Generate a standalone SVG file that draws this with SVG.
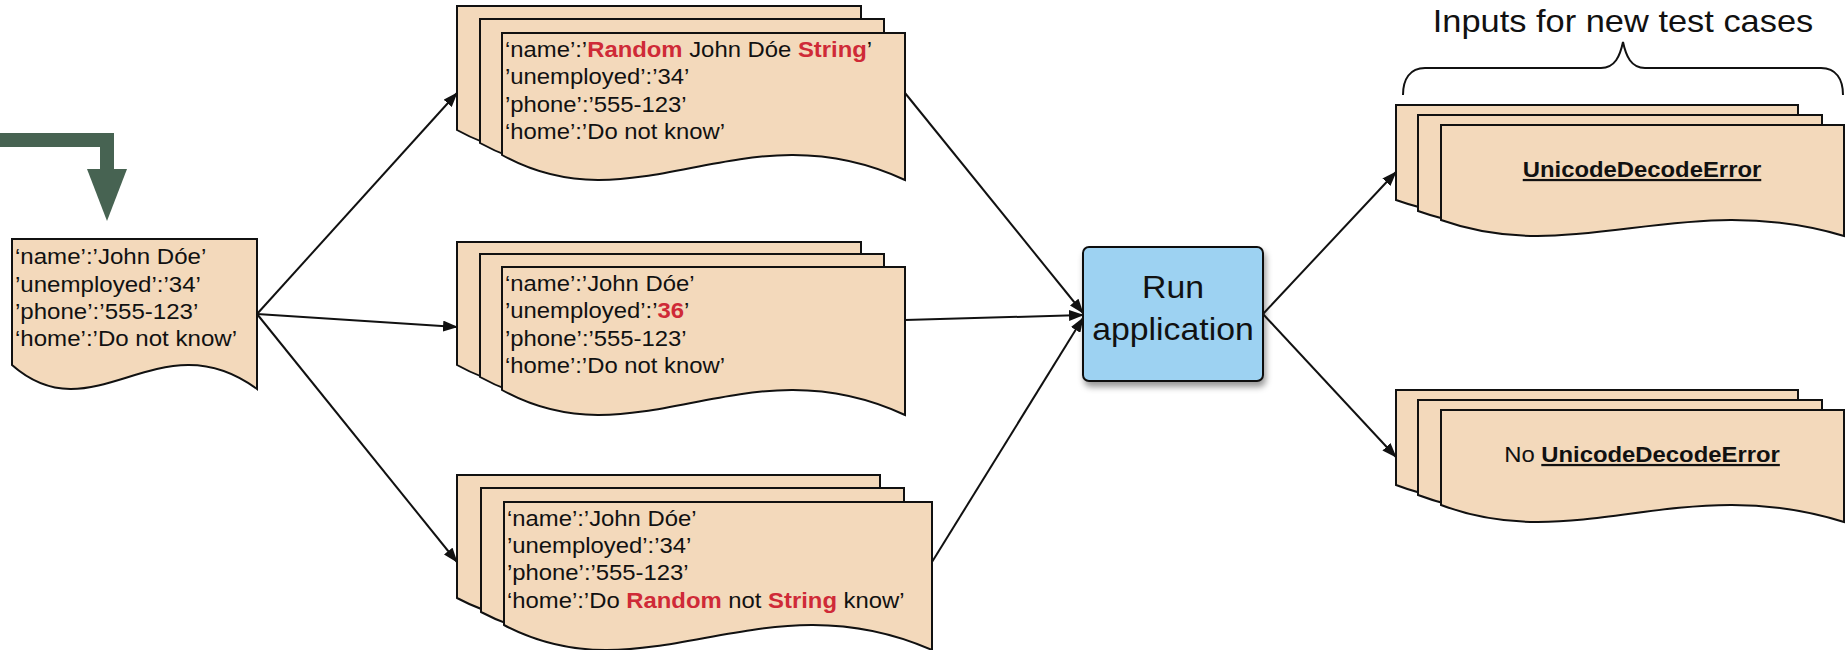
<svg xmlns="http://www.w3.org/2000/svg" width="1845" height="650" viewBox="0 0 1845 650">
<style>
.doc{fill:#f3d9bb;stroke:#111;stroke-width:2;stroke-linejoin:miter}
.t{font-family:"Liberation Sans",Arial,sans-serif;font-size:22.3px;fill:#111}
.r{font-weight:bold;fill:#cf2a37}
.b{font-weight:bold;text-decoration:underline}
.big{font-family:"Liberation Sans",Arial,sans-serif;font-size:31px;fill:#111;text-anchor:middle}
.con{fill:none;stroke:#111;stroke-width:2}
</style>
<defs>
<marker id="ah" markerWidth="15" markerHeight="11" refX="14" refY="5.5" orient="auto" markerUnits="userSpaceOnUse">
<path d="M0,0 L15,5.5 L0,11 z" fill="#111"/>
</marker>
<filter id="sh" x="-10%" y="-10%" width="130%" height="140%">
<feDropShadow dx="2" dy="5" stdDeviation="3" flood-color="#000" flood-opacity="0.4"/>
</filter>
</defs>

<g id="input-doc">
<path class="doc" d="M12,239 H257 V389 C159,317 93.7,437 12,365 Z"/>
<text class="t" transform="translate(15,264.3) scale(1.08,1)"><tspan x="0" dy="0">‘name’:’John Dóe’</tspan><tspan x="0" dy="27.4">’unemployed’:’34’</tspan><tspan x="0" dy="27.4">’phone’:’555-123’</tspan><tspan x="0" dy="27.4">‘home’:’Do not know’</tspan></text>
</g>

<g id="mutant-1">
<path class="doc" d="M457,6 H861 V155 C699.4,80 591.7,205 457,130 Z"/>
<path class="doc" d="M480,19 H884 V168 C722.4,93 614.7,218 480,143 Z"/>
<path class="doc" d="M502,33 H905 V180 C743.8,105 636.3,230 502,155 Z"/>
<text class="t" transform="translate(505,56.7) scale(1.07,1)"><tspan x="0" dy="0">‘name’:’<tspan class="r">Random</tspan> John Dóe <tspan class="r">String</tspan>’</tspan><tspan x="0" dy="27.5">’unemployed’:’34’</tspan><tspan x="0" dy="27.5">’phone’:’555-123’</tspan><tspan x="0" dy="27.5">‘home’:’Do not know’</tspan></text>
</g>

<g id="mutant-2">
<path class="doc" d="M457,242 H861 V390 C699.4,315 591.7,440 457,365 Z"/>
<path class="doc" d="M480,254 H884 V402 C722.4,327 614.7,452 480,377 Z"/>
<path class="doc" d="M502,267 H905 V415 C743.8,340 636.3,465 502,390 Z"/>
<text class="t" transform="translate(505,291) scale(1.07,1)"><tspan x="0" dy="0">‘name’:’John Dóe’</tspan><tspan x="0" dy="27.5">’unemployed’:’<tspan class="r">36</tspan>’</tspan><tspan x="0" dy="27.5">’phone’:’555-123’</tspan><tspan x="0" dy="27.5">‘home’:’Do not know’</tspan></text>
</g>

<g id="mutant-3">
<path class="doc" d="M457,475 H880 V623 C710.8,548 598,673 457,598 Z"/>
<path class="doc" d="M481,488 H904 V637 C734.8,562 622,687 481,612 Z"/>
<path class="doc" d="M504,502 H932 V650 C760.8,575 646.7,700 504,625 Z"/>
<text class="t" transform="translate(507,525.5) scale(1.07,1)"><tspan x="0" dy="0">‘name’:’John Dóe’</tspan><tspan x="0" dy="27.5">’unemployed’:’34’</tspan><tspan x="0" dy="27.5">’phone’:’555-123’</tspan><tspan x="0" dy="27.5">‘home’:’Do <tspan class="r">Random</tspan> not <tspan class="r">String</tspan> know’</tspan></text>
</g>

<g id="run-app">
<rect x="1083" y="247" width="180" height="134" rx="6" ry="6" fill="#9dd2f2" stroke="#111" stroke-width="2" filter="url(#sh)"/>
<text class="big" transform="translate(1173,298.3) scale(1.09,1)">Run</text>
<text class="big" transform="translate(1173,340) scale(1.09,1)">application</text>
</g>

<g id="result-error">
<path class="doc" d="M1396,105 H1798 V216 C1637.2,168 1530,248 1396,200 Z"/>
<path class="doc" d="M1418,115 H1822 V227 C1660.4,179 1552.7,259 1418,211 Z"/>
<path class="doc" d="M1441,125 H1844 V236 C1682.8,188 1575.3,268 1441,220 Z"/>
<text class="t" text-anchor="middle" transform="translate(1642,177) scale(1.07,1)"><tspan class="b">UnicodeDecodeError</tspan></text>
</g>

<g id="result-noerror">
<path class="doc" d="M1396,390 H1798 V502 C1637.2,451 1530,536 1396,485 Z"/>
<path class="doc" d="M1418,400 H1822 V512 C1660.4,461 1552.7,546 1418,495 Z"/>
<path class="doc" d="M1441,410 H1844 V522 C1682.8,471 1575.3,556 1441,505 Z"/>
<text class="t" text-anchor="middle" transform="translate(1642,462) scale(1.07,1)">No <tspan class="b">UnicodeDecodeError</tspan></text>
</g>

<g id="brace-label">
<path d="M1403,95 C1403,79 1410,68 1425,68 H1601 C1615,68 1620,56 1623,42 C1626,56 1631,68 1645,68 H1821 C1836,68 1843,79 1843,95" fill="none" stroke="#111" stroke-width="2"/>
<text class="big" transform="translate(1623,32) scale(1.11,1)">Inputs for new test cases</text>
</g>

<g id="connectors">
<polyline points="0,140 107,140 107,172" fill="none" stroke="#476352" stroke-width="14"/>
<polygon points="87,169 127,169 107,221" fill="#476352"/>
<line class="con" x1="257" y1="314" x2="457" y2="93" marker-end="url(#ah)"/>
<line class="con" x1="257" y1="314" x2="457" y2="327" marker-end="url(#ah)"/>
<line class="con" x1="257" y1="314" x2="457" y2="562" marker-end="url(#ah)"/>
<line class="con" x1="905" y1="93" x2="1083" y2="313" marker-end="url(#ah)"/>
<line class="con" x1="905" y1="320" x2="1083" y2="315" marker-end="url(#ah)"/>
<line class="con" x1="932" y1="562" x2="1083" y2="318" marker-end="url(#ah)"/>
<line class="con" x1="1263" y1="314" x2="1396" y2="172" marker-end="url(#ah)"/>
<line class="con" x1="1263" y1="314" x2="1396" y2="457" marker-end="url(#ah)"/>
</g>
</svg>
